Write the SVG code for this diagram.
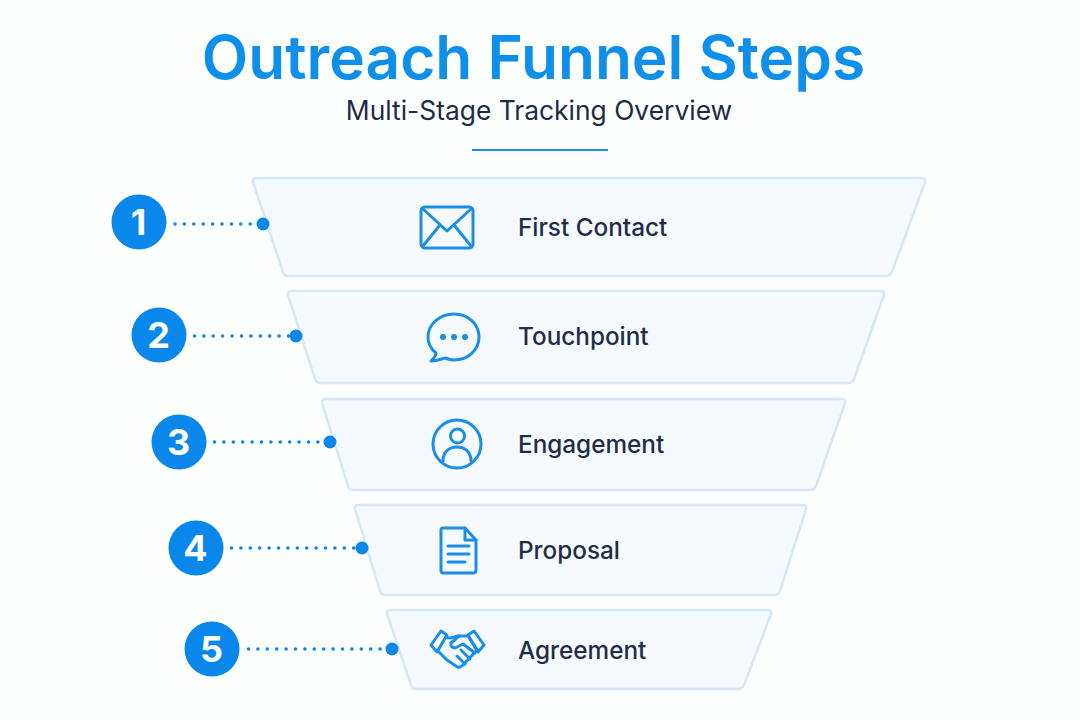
<svg xmlns="http://www.w3.org/2000/svg" width="1080" height="720" viewBox="0 0 1080 720">
<style>
text{font-family:Inter,"Liberation Sans",sans-serif}
.title{font-size:60.400px;font-weight:600;fill:#0f8fec;text-anchor:middle}
.sub{font-size:26.400px;font-weight:400;fill:#1d2b45;text-anchor:middle}
.label{font-size:24.300px;font-weight:500;fill:#1f2d48}
.num{font-size:36px;font-weight:700;fill:#fff;text-anchor:middle}
.band{fill:#f6fafe;stroke:#d6e7f5;stroke-width:2.500;stroke-linejoin:round}
.badge{fill:#0a87ea}
.dot{fill:#0a87ea}
.lead{stroke:#0a87ea;stroke-width:3.600;stroke-linecap:round;stroke-dasharray:0 9.400;fill:none}
.ic{fill:none;stroke:#1b8ee6;stroke-width:3;stroke-linejoin:round;stroke-linecap:round}
.icf{fill:#1b8ee6}
</style>
<rect width="1080" height="720" fill="#fdfefe"/>
<g id="header">
<text class="title" x="533.500" y="79">Outreach Funnel Steps</text>
<text class="sub" x="539" y="120">Multi-Stage Tracking Overview</text>
<line x1="472" y1="150" x2="608" y2="150" stroke="#1b8ee6" stroke-width="2"/>
</g>
<g id="connectors">
<line class="lead" x1="175" y1="224" x2="258" y2="224"/>
<line class="lead" x1="194.500" y1="336" x2="290" y2="336"/>
<line class="lead" x1="214.500" y1="442" x2="325" y2="442"/>
<line class="lead" x1="231.500" y1="548" x2="357" y2="548"/>
<line class="lead" x1="248.500" y1="649" x2="386" y2="649"/>
</g>
<g id="step1">
<path class="band" d="M257 178H922Q926 178 925 182L892 272Q890 276 886 276H288Q284 276 283 272L253 182Q252 178 257 178Z"/>
<circle class="badge" cx="139" cy="222" r="27.500"/>
<text class="num" x="138.500" y="235">1</text>
<circle class="dot" cx="263" cy="224" r="6.500"/>
<rect class="ic" x="421" y="207" width="52" height="41" rx="4"/>
<path class="ic" d="M423 209L447 231L471 209M423 246L440 225M471 246L454 225"/>
<text class="label" x="518" y="236">First Contact</text>
</g>
<g id="step2">
<path class="band" d="M292 291H881Q885 291 884 295L854 379Q852 383 848 383H320Q316 383 315 379L288 295Q287 291 292 291Z"/>
<circle class="badge" cx="159" cy="335" r="27.500"/>
<text class="num" x="158.500" y="348">2</text>
<circle class="dot" cx="296" cy="336" r="6.500"/>
<path class="ic" d="M454 314C440 314 428 324 428 337C428 344 431 349 436 353C436 356 434 358 431 361C437 361 441 359 445 358C448 359 451 360 454 360C468 360 479 350 479 337C479 324 468 314 454 314Z"/>
<circle class="icf" cx="443" cy="337" r="3"/><circle class="icf" cx="454" cy="337" r="3"/><circle class="icf" cx="465" cy="337" r="3"/>
<text class="label" x="518" y="345">Touchpoint</text>
</g>
<g id="step3">
<path class="band" d="M326 399H842Q846 399 845 403L816 486Q814 490 810 490H353Q349 490 348 486L322 403Q321 399 326 399Z"/>
<circle class="badge" cx="179" cy="442" r="27.500"/>
<text class="num" x="178.500" y="455">3</text>
<circle class="dot" cx="330" cy="442" r="6.500"/>
<circle class="ic" cx="457" cy="444" r="24"/>
<circle class="ic" cx="457.500" cy="436" r="7"/>
<path class="ic" d="M443 461C443 452 449 447 457 447C465 447 471 452 471 461"/>
<text class="label" x="518" y="453">Engagement</text>
</g>
<g id="step4">
<path class="band" d="M359 505H803Q807 505 806 509L780 591Q778 595 774 595H385Q381 595 380 591L355 509Q354 505 359 505Z"/>
<circle class="badge" cx="196" cy="548" r="27.500"/>
<text class="num" x="195.500" y="561">4</text>
<circle class="dot" cx="362" cy="548" r="6.500"/>
<path class="ic" d="M443 528H465L476 540V570Q476 573 473 573H443Q441 573 441 570V530Q441 528 443 528Z"/>
<path class="ic" d="M465 528V540H476M448 546H469M448 554H469M448 562H465"/>
<text class="label" x="518" y="559">Proposal</text>
</g>
<g id="step5">
<path class="band" d="M391 610H768Q772 610 771 614L744 685Q742 689 738 689H416Q412 689 411 685L387 614Q386 610 391 610Z"/>
<circle class="badge" cx="212" cy="649" r="27.500"/>
<text class="num" x="211.500" y="662">5</text>
<circle class="dot" cx="392" cy="649" r="6.500"/>
<path class="ic" d="M431 645L441 631L447 635L437 652ZM484 645L474 631L468 635L478 652Z"/>
<path class="ic" d="M446 637C451 640 454 636 458 636C461 636 464 636 468 636L477 650L463 665Q459 669 456 666L447 660L438 651"/>
<path class="ic" d="M459 636L451 643Q450 647 455 648L463 644L475 653M470 659L461 650M465 664L457 656"/>
<text class="label" x="518" y="659">Agreement</text>
</g>
</svg>
